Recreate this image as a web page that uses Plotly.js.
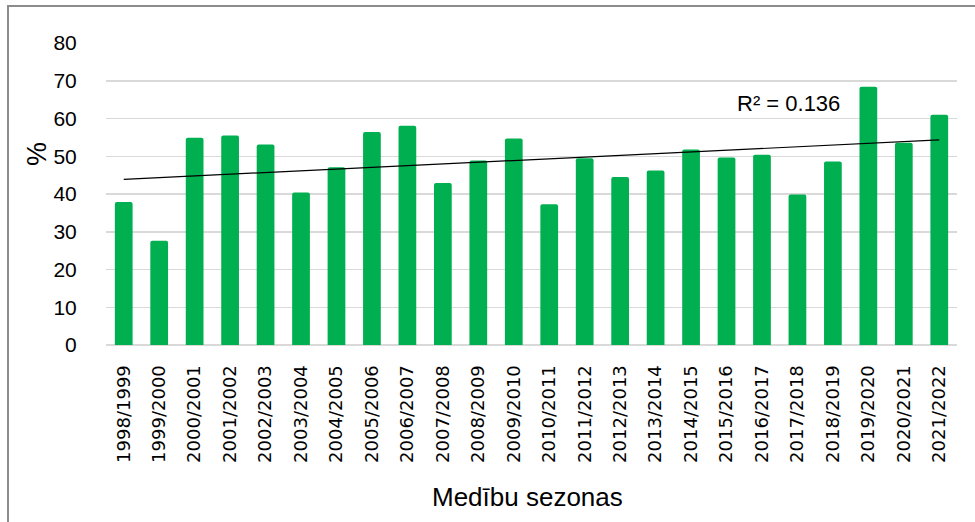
<!DOCTYPE html>
<html>
<head>
<meta charset="utf-8">
<script src="https://cdn.plot.ly/plotly-3.0.1.min.js"></script>
<style>
  html, body { margin: 0; padding: 0; background: #fff; }
  #chart { width: 975px; height: 522px; }
</style>
</head>
<body>
<div id="chart"></div>
<script>
const seasons = [
  "1998/1999","1999/2000","2000/2001","2001/2002","2002/2003","2003/2004",
  "2004/2005","2005/2006","2006/2007","2007/2008","2008/2009","2009/2010",
  "2010/2011","2011/2012","2012/2013","2013/2014","2014/2015","2015/2016",
  "2016/2017","2017/2018","2018/2019","2019/2020","2020/2021","2021/2022"
];
const percentValues = [
  37.9, 27.6, 54.9, 55.5, 53.1, 40.4,
  47.1, 56.4, 58.1, 42.9, 48.9, 54.7,
  37.3, 49.5, 44.5, 46.2, 51.8, 49.7,
  50.4, 39.9, 48.6, 68.4, 53.6, 61.0
];
const yTickValues = [0, 10, 20, 30, 40, 50, 60, 70, 80];
const rSquaredLabel = "R² = 0.136";
const xAxisTitle = "Medību sezonas";
const yAxisTitle = "%";

// Linear trend (least squares over category index)
const n = percentValues.length;
const idx = percentValues.map((_, i) => i + 1);
const mx = idx.reduce((a, b) => a + b, 0) / n;
const my = percentValues.reduce((a, b) => a + b, 0) / n;
let sxy = 0, sxx = 0;
for (let i = 0; i < n; i++) { sxy += (idx[i] - mx) * (percentValues[i] - my); sxx += (idx[i] - mx) ** 2; }
const slope = sxy / sxx;
const intercept = my - slope * mx;
const trendX = [seasons[0], seasons[n - 1]];
const trendY = [intercept + slope * idx[0], intercept + slope * idx[n - 1]];

const bars = {
  type: "bar",
  x: seasons,
  y: percentValues,
  marker: { color: "#00AF50", cornerradius: 2 },
  hoverinfo: "x+y",
  showlegend: false
};
const trend = {
  type: "scatter",
  mode: "lines",
  x: trendX,
  y: trendY,
  line: { color: "#000000", width: 1.2 },
  hoverinfo: "skip",
  showlegend: false
};

const L = 106, R = 957, T = 43, B = 345, W = 975, H = 522;
const px2x = p => (p - L) / (R - L);
const px2y = p => (B - p) / (B - T);

const layout = {
  width: W, height: H,
  margin: { l: L, r: W - R, t: T, b: H - B },
  paper_bgcolor: "#ffffff",
  plot_bgcolor: "#ffffff",
  bargap: 0.5,
  font: { family: "Liberation Sans, Arial, sans-serif", color: "#000000" },
  xaxis: {
    type: "category",
    tickangle: -90,
    tickfont: { family: "DejaVu Sans, sans-serif", size: 18, color: "#000" },
    ticks: "outside", ticklen: 12, tickcolor: "rgba(0,0,0,0)",
    showgrid: false, zeroline: false, showline: false,
    fixedrange: true
  },
  yaxis: {
    range: [0, 80],
    tickvals: yTickValues,
    tickfont: { family: "Liberation Sans, Arial, sans-serif", size: 21, color: "#000" },
    ticks: "outside", ticklen: 24, tickcolor: "rgba(0,0,0,0)",
    showgrid: true, gridcolor: "#d9d9d9", gridwidth: 1.5,
    zeroline: true, zerolinecolor: "#d9d9d9", zerolinewidth: 1.5,
    showline: false,
    fixedrange: true
  },
  annotations: [
    {
      text: rSquaredLabel, xref: "paper", yref: "paper",
      x: px2x(788), y: px2y(103), xanchor: "center", yanchor: "middle",
      showarrow: false, font: { size: 22, color: "#000" }
    },
    {
      text: xAxisTitle, xref: "paper", yref: "paper",
      x: px2x(527), y: px2y(497), xanchor: "center", yanchor: "middle",
      showarrow: false, font: { size: 26, color: "#000" }
    },
    {
      text: yAxisTitle, xref: "paper", yref: "paper",
      x: px2x(37), y: px2y(154), xanchor: "center", yanchor: "middle",
      textangle: -90,
      showarrow: false, font: { size: 27, color: "#000" }
    }
  ],
  shapes: [
    {
      type: "path", xref: "paper", yref: "paper",
      path: "M " + px2x(8) + "," + px2y(530) + " L " + px2x(8) + "," + px2y(6) + " L " + px2x(980) + "," + px2y(6),
      line: { color: "#8c8c8c", width: 2 }, layer: "above"
    }
  ]
};

Plotly.newPlot("chart", [bars, trend], layout, { displayModeBar: false, staticPlot: true });
</script>
</body>
</html>
